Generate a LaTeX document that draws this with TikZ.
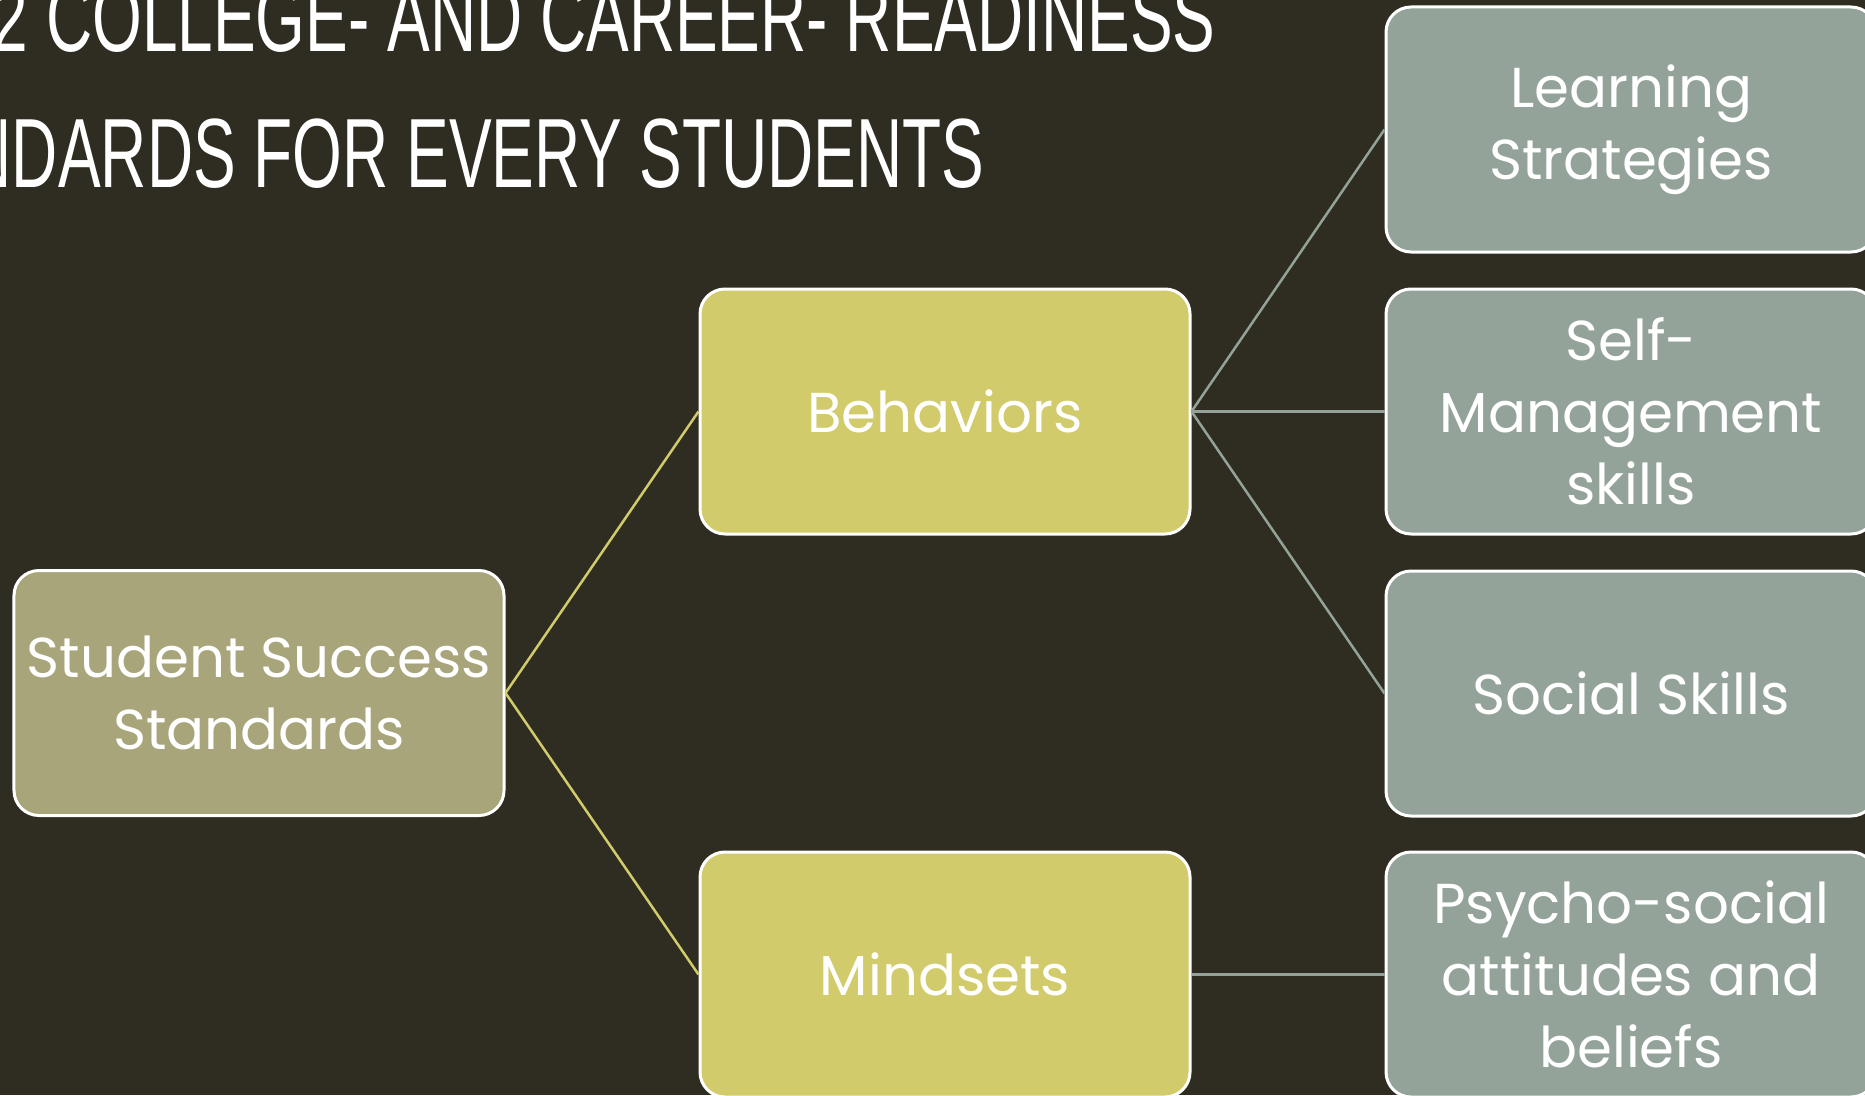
\documentclass[tikz,border=0pt]{standalone}
\usepackage{xcolor}
\usepackage{fontspec}
\usepackage{tikz}
\usetikzlibrary{positioning,trees}

\setmainfont{Poppins}
\newfontfamily\titlefont[FakeStretch=0.65]{Liberation Sans}

\definecolor{slidebg}{HTML}{2F2C21}
\definecolor{rootfill}{HTML}{A8A57B}
\definecolor{midfill}{HTML}{D2CB6C}
\definecolor{leaffill}{HTML}{94A39A}

\begin{document}
\begin{tikzpicture}[
    x=0.2mm, y=-0.2mm,
    grow'=right,
    level 1/.style={sibling distance=112.6mm, level distance=137.2mm, edge from parent/.style={draw=midfill, line width=0.5mm}},
    level 2/.style={sibling distance=56.4mm, level distance=137.2mm, edge from parent/.style={draw=leaffill, line width=0.5mm}},
    box/.style={rectangle, draw=white, line width=0.6mm, rounded corners=5mm, minimum width=98mm, minimum height=49mm, inner sep=0pt, align=center, text=white, font=\fontsize{32}{41}\selectfont},
    rootbox/.style={box, fill=rootfill},
    midbox/.style={box, fill=midfill},
    leafbox/.style={box, fill=leaffill},
    titletext/.style={anchor=base east, text=white, inner sep=0pt, font=\titlefont\fontsize{56}{56}\selectfont},
    edge from parent path={(\tikzparentnode.east) -- (\tikzchildnode.west)}
]

\useasboundingbox (0,0) rectangle (1865,1095);
\clip (0,0) rectangle (1865,1095);
\fill[slidebg] (0,0) rectangle (1865,1095);

% title, cut by the slide edge
\node[titletext] (title1) at (1216,51) {K-12 COLLEGE- AND CAREER- READINESS};
\node[titletext] (title2) at (985,187) {STANDARDS FOR EVERY STUDENTS};

\node[rootbox] (sss) at (259,693) {Student Success\\Standards}
    child { node[midbox] (beh) {Behaviors}
        child { node[leafbox] (learn) {Learning\\Strategies} }
        child { node[leafbox] (selfman) {Self-\\Management\\skills} }
        child { node[leafbox] (social) {Social Skills} }
    }
    child { node[midbox] (mind) {Mindsets}
        child { node[leafbox] (psycho) {Psycho-social\\attitudes and\\beliefs} }
    };

\end{tikzpicture}
\end{document}
